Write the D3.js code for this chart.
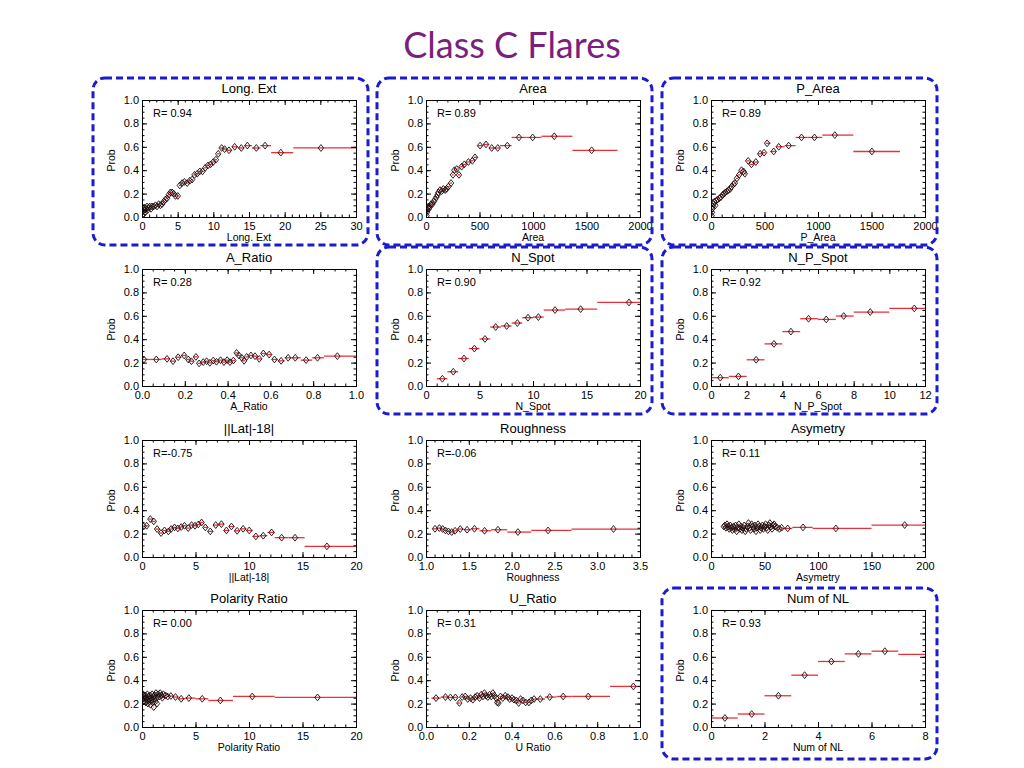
<!DOCTYPE html>
<html><head><meta charset="utf-8">
<script src="https://cdn.jsdelivr.net/npm/d3@7"></script>
<style>
html,body{margin:0;padding:0;background:#fff;}
svg{display:block;}
text{font-family:"Liberation Sans",Arial,Helvetica,sans-serif;}
</style></head>
<body>
<svg id="chart" width="1024" height="768"></svg>
<script>
// ---------------- DATA ----------------
const chartTitle = "Class C Flares";
const panelTitles = ["Long. Ext","Area","P_Area","A_Ratio","N_Spot","N_P_Spot","||Lat|-18|","Roughness","Asymetry","Polarity Ratio","U_Ratio","Num of NL"];
const xAxisLabels = ["Long. Ext","Area","P_Area","A_Ratio","N_Spot","N_P_Spot","||Lat|-18|","Roughness","Asymetry","Polarity Ratio","U Ratio","Num of NL"];
const rValues = ["0.94","0.89","0.89","0.28","0.90","0.92","-0.75","-0.06","0.11","0.00","0.31","0.93"];
const highlighted = [true,true,true,false,true,true,false,false,false,false,false,true];
const yTickLabels = ["0.0","0.2","0.4","0.6","0.8","1.0"];

// Long. Ext
const longExtX = [0.05,0.1,0.15,0.23,0.33,0.38,0.47,0.56,0.70,0.80,0.94,1.08,1.27,1.41,1.64,1.88,2.11,2.34,2.58,2.81,3.05,3.28,3.52,3.75,3.98,4.22,4.45,4.69,5.02,5.30,5.63,5.95,6.33,6.70,7.03,7.36,7.74,8.11,8.49,8.86,9.24,9.61,9.99,10.36,10.69,11.16,11.58,12.19,12.99,13.92,14.77,16.03,17.25,19.46,25.08];
const longExtY = [0.01,0.05,0.08,0.03,0.06,0.08,0.04,0.07,0.09,0.06,0.08,0.09,0.07,0.09,0.09,0.10,0.09,0.11,0.10,0.11,0.13,0.15,0.16,0.19,0.21,0.21,0.20,0.18,0.18,0.27,0.29,0.30,0.29,0.31,0.32,0.36,0.37,0.39,0.39,0.42,0.44,0.45,0.47,0.49,0.54,0.59,0.58,0.57,0.60,0.59,0.61,0.59,0.61,0.55,0.59];
const longExtTailEdges = [16.6,18.1,21.2,30];
// Area
const areaX = [6,9,12,16,22,28,37,47,59,72,84,97,109,115,131,146,162,178,193,209,234,252,265,287,308,333,358,396,433,458,505,561,614,670,760,869,997,1199,1548];
const areaY = [0.01,0.04,0.06,0.08,0.09,0.07,0.09,0.11,0.11,0.13,0.15,0.17,0.19,0.21,0.23,0.22,0.24,0.23,0.24,0.26,0.29,0.36,0.40,0.41,0.36,0.43,0.45,0.47,0.48,0.51,0.61,0.62,0.59,0.59,0.61,0.68,0.68,0.69,0.57];
const areaTailEdges = [690,800,940,1080,1368,1790];
// P_Area
const pAreaX = [6,9,12,16,22,31,40,50,62,78,93,109,124,133,149,164,180,192,211,223,242,263,285,304,316,347,378,419,459,496,524,586,633,726,846,967,1157,1504];
const pAreaY = [0.01,0.04,0.07,0.09,0.11,0.13,0.10,0.14,0.15,0.16,0.17,0.19,0.20,0.21,0.22,0.23,0.24,0.26,0.28,0.29,0.33,0.36,0.40,0.39,0.37,0.48,0.45,0.47,0.54,0.55,0.63,0.56,0.60,0.61,0.68,0.68,0.70,0.56];
const pAreaTailEdges = [688,791,900,1040,1330,1767];
// A_Ratio
const aRatioX = [0.009,0.067,0.117,0.145,0.169,0.197,0.216,0.231,0.252,0.267,0.286,0.302,0.317,0.333,0.348,0.367,0.383,0.398,0.411,0.427,0.442,0.453,0.466,0.477,0.489,0.509,0.528,0.548,0.567,0.594,0.619,0.650,0.683,0.716,0.767,0.820,0.913];
const aRatioY = [0.227,0.227,0.232,0.212,0.246,0.261,0.227,0.212,0.249,0.193,0.204,0.212,0.198,0.218,0.207,0.221,0.204,0.221,0.204,0.218,0.283,0.261,0.241,0.215,0.249,0.261,0.255,0.232,0.278,0.269,0.227,0.215,0.241,0.241,0.221,0.241,0.255];
const aRatioTailEdges = [0.795,0.85,1.0];
// N_Spot
const nSpotX = [1.53,2.55,3.55,4.52,5.51,6.51,7.54,8.54,9.53,10.5,12.06,14.45,18.97];
const nSpotY = [0.062,0.122,0.235,0.32,0.402,0.504,0.513,0.538,0.584,0.589,0.649,0.657,0.714];
const nSpotTailEdges = [1,2,3,4,5,6,7,8,9,10,11,13,16,20];
// N_P_Spot
const npSpotX = [0.52,1.54,2.53,3.53,4.48,5.47,6.46,7.44,8.93,11.4];
const npSpotY = [0.071,0.082,0.224,0.36,0.465,0.575,0.569,0.598,0.632,0.663];
const npSpotTailEdges = [0,1,2,3,4,5,6,7,8,10,12];
// ||Lat|-18|
const latX = [0.16,0.44,0.78,1.1,1.41,1.78,2.1,2.47,2.72,3.04,3.35,3.66,3.97,4.32,4.63,4.95,5.26,5.57,5.92,6.38,6.89,7.42,7.89,8.36,8.89,9.45,10.02,10.64,11.33,12.11,13.05,14.3,17.28];
const latY = [0.261,0.267,0.324,0.304,0.239,0.205,0.227,0.219,0.239,0.253,0.244,0.256,0.267,0.247,0.273,0.267,0.278,0.295,0.253,0.219,0.273,0.281,0.227,0.261,0.224,0.241,0.227,0.176,0.182,0.21,0.165,0.165,0.091];
const latTailEdges = [12.4,13.7,15.2,20];
// Roughness
const roughX = [1.105,1.156,1.195,1.227,1.262,1.30,1.34,1.40,1.48,1.566,1.684,1.84,2.074,2.426,3.19];
const roughY = [0.241,0.247,0.239,0.227,0.219,0.213,0.224,0.239,0.233,0.241,0.224,0.233,0.213,0.227,0.239];
const roughTailEdges = [1.76,1.95,2.23,2.70,3.5];
// Asymetry
const asymX = [12,13,14,15,16,17,18,19,20,21,22,23,24,25,26,27,28,29,30,31,32,33,34,35,36,37,38,39,40,41,42,43,44,45,46,47,48,49,50,51,52,53,54,55,56,57,58,59,60,62,64,66,71.7,86,116.7,181];
const asymY = [0.26,0.27,0.25,0.28,0.26,0.24,0.27,0.25,0.23,0.26,0.24,0.27,0.22,0.25,0.28,0.24,0.26,0.23,0.25,0.27,0.22,0.24,0.26,0.29,0.25,0.23,0.28,0.26,0.24,0.27,0.22,0.25,0.28,0.26,0.23,0.25,0.27,0.24,0.26,0.28,0.25,0.23,0.27,0.29,0.26,0.24,0.27,0.28,0.26,0.25,0.24,0.25,0.244,0.253,0.244,0.273];
const asymTailEdges = [67,76,95,150,200];
// Polarity Ratio
const polX = [0.05,0.1,0.15,0.2,0.25,0.3,0.35,0.4,0.45,0.5,0.55,0.6,0.65,0.7,0.75,0.8,0.85,0.9,0.95,1.0,1.05,1.1,1.15,1.2,1.25,1.3,1.35,1.4,1.5,1.6,1.7,1.8,1.9,2.0,2.2,2.4,2.7,3.13,3.66,4.38,5.63,7.32,10.3,16.4];
const polY = [0.25,0.28,0.22,0.26,0.24,0.27,0.21,0.25,0.23,0.28,0.20,0.26,0.24,0.22,0.27,0.19,0.25,0.23,0.28,0.21,0.26,0.17,0.24,0.27,0.22,0.29,0.25,0.20,0.28,0.26,0.29,0.27,0.25,0.28,0.27,0.26,0.265,0.256,0.241,0.247,0.241,0.227,0.261,0.253];
const polTailEdges = [5.0,6.2,8.5,12.4,20];
// U_Ratio
const uRatioX = [0.047,0.091,0.114,0.1375,0.156,0.169,0.183,0.195,0.208,0.219,0.23,0.239,0.25,0.258,0.266,0.273,0.281,0.289,0.297,0.305,0.3125,0.32,0.328,0.333,0.339,0.348,0.359,0.37,0.383,0.391,0.402,0.411,0.422,0.433,0.442,0.453,0.466,0.481,0.492,0.505,0.534,0.578,0.641,0.758,0.969];
const uRatioY = [0.247,0.256,0.253,0.253,0.205,0.256,0.261,0.239,0.247,0.233,0.256,0.267,0.247,0.276,0.261,0.29,0.267,0.256,0.276,0.261,0.29,0.267,0.247,0.21,0.205,0.261,0.247,0.267,0.256,0.239,0.247,0.233,0.227,0.205,0.239,0.227,0.21,0.21,0.227,0.239,0.239,0.256,0.261,0.261,0.347];
const uRatioTailEdges = [0.61,0.68,0.86,1.0];
// Num of NL
const numNLX = [0.52,1.52,2.52,3.5,4.5,5.51,6.5,8.5];
const numNLY = [0.077,0.111,0.267,0.443,0.56,0.625,0.648,0.62];
const numNLTailEdges = [0,1,2,3,4,5,6,7,10];

// x-axis domains and tick steps
const xDomains = [[0,30],[0,2000],[0,2000],[0,1],[0,20],[0,12],[0,20],[1,3.5],[0,200],[0,20],[0,1],[0,8]];
const xMajorSteps = [5,500,500,0.2,5,2,5,0.5,50,5,0.2,2];
const xMinorSteps = [1,100,100,0.05,1,0.5,1,0.1,10,1,0.05,0.5];
const xTickDecimals = [0,0,0,1,0,0,0,1,0,0,1,0];

// ---------------- DRAW ----------------
const seriesX = [longExtX,areaX,pAreaX,aRatioX,nSpotX,npSpotX,latX,roughX,asymX,polX,uRatioX,numNLX];
const seriesY = [longExtY,areaY,pAreaY,aRatioY,nSpotY,npSpotY,latY,roughY,asymY,polY,uRatioY,numNLY];
const seriesTail = [longExtTailEdges,areaTailEdges,pAreaTailEdges,aRatioTailEdges,nSpotTailEdges,npSpotTailEdges,latTailEdges,roughTailEdges,asymTailEdges,polTailEdges,uRatioTailEdges,numNLTailEdges];

const svg = d3.select("#chart");
const colX = [142, 426, 711];
const rowY = [100, 269, 440, 610];
const W = 214, H = 117;

svg.append("text").attr("x", 512).attr("y", 58).attr("text-anchor","middle")
  .style("font-family","Lato, 'Open Sans', sans-serif").style("font-size","36px")
  .attr("fill","#7b1f7e").text(chartTitle);

function range(a, b, s){ const out=[]; const n=Math.round((b-a)/s); for(let i=0;i<=n;i++) out.push(+(a+i*s).toFixed(6)); return out; }

function binBounds(xs, tail, d0){
  const n = xs.length, k = tail.length - 1, first = n - k;
  return xs.map((x,i)=>{
    if (i >= first) return [tail[i-first], tail[i-first+1]];
    const lo = i===0 ? Math.max(d0, x - (xs[1]-x)/2) : (xs[i-1]+x)/2;
    const hi = (i===first-1) ? tail[0] : (x+xs[i+1])/2;
    return [lo, hi];
  });
}

const boxes = [];
panelTitles.forEach((title, p)=>{
  const c = p % 3, r = Math.floor(p/3);
  const left = colX[c], top = rowY[r];
  const g = svg.append("g").attr("transform",`translate(${left},${top})`);
  const x = d3.scaleLinear().domain(xDomains[p]).range([0,W]);
  const y = d3.scaleLinear().domain([0,1]).range([H,0]);
  const xMaj = range(xDomains[p][0], xDomains[p][1], xMajorSteps[p]);
  const xMin = range(xDomains[p][0], xDomains[p][1], xMinorSteps[p]);
  const yMaj = range(0,1,0.2), yMin = range(0,1,0.05);
  const fmtX = d3.format(`.${xTickDecimals[p]}f`);

  // clip
  const cid = "clip"+p;
  g.append("clipPath").attr("id",cid).append("rect").attr("width",W).attr("height",H);

  // error bars + points
  const bins = binBounds(seriesX[p], seriesTail[p], xDomains[p][0]);
  const plot = g.append("g").attr("clip-path",`url(#${cid})`);
  plot.selectAll("line.bar").data(seriesX[p]).join("line").attr("class","bar")
    .attr("x1",(d,i)=>x(bins[i][0])).attr("x2",(d,i)=>x(bins[i][1]))
    .attr("y1",(d,i)=>y(seriesY[p][i])).attr("y2",(d,i)=>y(seriesY[p][i]))
    .attr("stroke","#e8313a").attr("stroke-width",1.3);
  const sym = "M0,-3.4L2.7,0L0,3.4L-2.7,0Z";
  plot.selectAll("path.pt").data(seriesX[p]).join("path").attr("class","pt")
    .attr("d",sym).attr("transform",(d,i)=>`translate(${x(d)},${y(seriesY[p][i])})`)
    .attr("fill","none").attr("stroke","#1a0a0a").attr("stroke-width",0.9);

  // axes (IDL style: ticks inside on all four sides)
  g.append("g").attr("transform",`translate(0,${H})`)
    .call(d3.axisBottom(x).tickValues(xMaj).tickSize(-5).tickPadding(5).tickFormat(fmtX));
  g.append("g").attr("transform",`translate(0,${H})`)
    .call(d3.axisBottom(x).tickValues(xMin).tickSize(-2.5).tickFormat(""));
  g.append("g").call(d3.axisTop(x).tickValues(xMaj).tickSize(-5).tickFormat(""));
  g.append("g").call(d3.axisTop(x).tickValues(xMin).tickSize(-2.5).tickFormat(""));
  g.append("g").call(d3.axisLeft(y).tickValues(yMaj).tickSize(-5).tickPadding(3).tickFormat((d,i)=>yTickLabels[i]));
  g.append("g").call(d3.axisLeft(y).tickValues(yMin).tickSize(-2.5).tickFormat(""));
  g.append("g").attr("transform",`translate(${W},0)`).call(d3.axisRight(y).tickValues(yMaj).tickSize(-5).tickFormat(""));
  g.append("g").attr("transform",`translate(${W},0)`).call(d3.axisRight(y).tickValues(yMin).tickSize(-2.5).tickFormat(""));
  g.selectAll(".domain").attr("stroke","#000").attr("stroke-width",1);
  g.selectAll(".tick line").attr("stroke","#000");
  g.selectAll(".tick text").style("font-family","'Liberation Sans',Arial,sans-serif").style("font-size","11px").attr("fill","#000");

  // labels
  g.append("text").attr("x",W/2).attr("y",-7).attr("text-anchor","middle")
    .style("font-size","13px").attr("fill","#000").text(title);
  g.append("text").attr("x",W/2).attr("y",H+23.5).attr("text-anchor","middle")
    .style("font-size","10.5px").attr("fill","#000").text(xAxisLabels[p]);
  g.append("text").attr("transform",`translate(-27,${H/2+2}) rotate(-90)`).attr("text-anchor","middle")
    .style("font-size","10.5px").attr("fill","#000").text("Prob");
  const rv = rValues[p];
  g.append("text").attr("x",11).attr("y",17).style("font-size","11px").attr("fill","#000")
    .attr("xml:space","preserve").text("R=" + (rv.startsWith("-") ? rv : " " + rv));

  if (highlighted[p]) boxes.push([left-49, top-22, 275, 167 + (r===3 ? 4 : 0)]);
});

// dashed highlight boxes
svg.selectAll("rect.hl").data(boxes).join("rect").attr("class","hl")
  .attr("x",d=>d[0]).attr("y",d=>d[1]).attr("width",d=>d[2]).attr("height",d=>d[3])
  .attr("rx",12).attr("ry",12).attr("fill","none")
  .attr("stroke","#1b1bd0").attr("stroke-width",3).attr("stroke-dasharray","7,4");
</script>
</body></html>
